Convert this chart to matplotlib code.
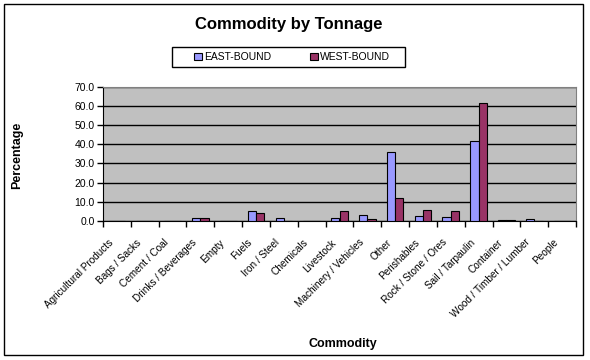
import numpy as np
import matplotlib.pyplot as plt
import matplotlib.transforms as mtransforms
from matplotlib.patches import Rectangle

categories = ['Agricultural Products', 'Bags / Sacks', 'Cement / Coal', 'Drinks / Beverages',
              'Empty', 'Fuels', 'Iron / Steel', 'Chemicals', 'Livestock', 'Machinery / Vehicles',
              'Other', 'Perishables', 'Rock / Stone / Ores', 'Sail / Tarpaulin', 'Container',
              'Wood / Timber / Lumber', 'People']
east = [0, 0, 0, 1.4, 0, 5.4, 1.4, 0, 1.4, 3.0, 35.8, 2.4, 1.9, 41.6, 0.3, 0.9, 0]
west = [0, 0, 0, 1.4, 0, 4.3, 0, 0, 5.0, 0.9, 11.8, 5.6, 5.0, 61.4, 0.3, 0, 0]
yticks = [0, 10, 20, 30, 40, 50, 60, 70]

plt.rcParams['font.family'] = ['Liberation Sans', 'DejaVu Sans']

eastColor = '#9999FF'
westColor = '#993366'

fig = plt.figure(figsize=(5.9, 3.6), dpi=100)
ax = fig.add_axes([103/590, 139/360, 473/590, 134.3/360])
ax.set_facecolor('#C0C0C0')

x = np.arange(len(categories))
w = 0.3
ax.bar(x - w/2, east, w, color=eastColor, edgecolor='black', linewidth=0.8, label='EAST-BOUND', zorder=3)
ax.bar(x + w/2, west, w, color=westColor, edgecolor='black', linewidth=0.8, label='WEST-BOUND', zorder=3)

ax.set_xlim(-0.5, len(categories) - 0.5)
ax.set_ylim(0, 70)
ax.set_yticks(yticks)
ax.set_yticklabels(['%.1f' % v for v in yticks], fontsize=7.5)
ax.yaxis.grid(True, color='black', linewidth=1, zorder=1)
ax.tick_params(axis='y', length=4, width=1, pad=2)

ax.set_xticks(np.arange(len(categories) + 1) - 0.5)
ax.set_xticklabels([])
ax.tick_params(axis='x', length=4, width=1)
ax.set_xticks(x, minor=True)
ax.set_xticklabels(categories, minor=True, rotation=45, ha='right', va='top',
                   rotation_mode='anchor', fontsize=7.2)
ax.tick_params(axis='x', which='minor', length=0, pad=6)
shift = mtransforms.ScaledTranslation(-9/100, -8/100, fig.dpi_scale_trans)
for lbl in ax.get_xticklabels(minor=True):
    lbl.set_transform(lbl.get_transform() + shift)

for s in ['top', 'right']:
    ax.spines[s].set_color('#808080')
ax.spines['left'].set_color('black')
ax.spines['bottom'].set_color('black')

fig.text(17/590, 1 - 155/360, 'Percentage', fontsize=9, fontweight='bold', rotation=90,
         ha='center', va='center')
fig.text(343/590, 1 - 344/360, 'Commodity', fontsize=9, fontweight='bold', ha='center', va='center')
fig.text(289/590, 1 - 24/360, 'Commodity by Tonnage', fontsize=12, fontweight='bold', ha='center', va='center')

leg = fig.legend(loc='center', bbox_to_anchor=(292/590, 1 - 57/360), ncol=2, fontsize=7.5,
                 frameon=False, handlelength=0.7, handleheight=0.7,
                 columnspacing=3.8, borderpad=0, handletextpad=0.2)
fig.patches.append(Rectangle((172/590, 1 - 67/360), 233/590, 20/360, transform=fig.transFigure,
                             fill=False, edgecolor='black', linewidth=1))

fig.patches.append(Rectangle((4/590, 5/360), 579/590, 351/360, transform=fig.transFigure,
                             fill=False, edgecolor='black', linewidth=1))

fig.savefig('out.png', dpi=100)
